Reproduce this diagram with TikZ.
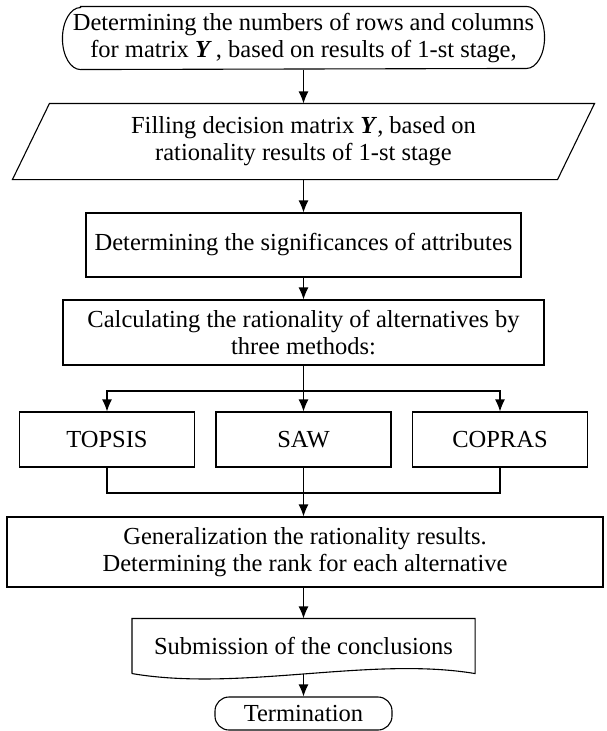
\documentclass[tikz,border=0pt]{standalone}
\usepackage{fontspec}
\setmainfont{Liberation Serif}
\usetikzlibrary{arrows.meta}
\newcommand{\matY}{\textbf{\textit{Y}}}
\begin{document}
\begin{tikzpicture}[x=1pt,y=-1pt,line width=1.1pt,
    >={Latex[length=12pt,width=10pt]},
    every node/.style={font=\fontsize{24.5}{27}\selectfont,align=center,inner sep=0pt},
    blk/.style={draw},
    meth/.style={draw,minimum width=175pt,minimum height=55pt}]
      \useasboundingbox (0,0) rectangle (607,731);
      \node (start) at (303.5,38) [minimum width=481pt,minimum height=62pt]
        {Determining the numbers of rows and columns\\for matrix \matY\,, based on results of 1-st stage,};
      \draw ([xshift=18pt]start.north west) -- ([xshift=-18pt]start.north east)
        arc[start angle=90,end angle=-90,x radius=18pt,y radius=31pt]
        -- ([xshift=18pt]start.south west)
        arc[start angle=270,end angle=90,x radius=18pt,y radius=31pt] -- cycle;
      \node (fill) at (303.5,141.5) [minimum width=544pt,minimum height=75pt]
        {Filling decision matrix \matY, based on\\rationality results of 1-st stage};
      \draw ([xshift=18.5pt]fill.north west) -- ([xshift=18.5pt]fill.north east)
        -- ([xshift=-18.5pt]fill.south east) -- ([xshift=-18.5pt]fill.south west) -- cycle;
      \node (sig) at (303.5,245) [blk,minimum width=435pt,minimum height=64pt]
        {Determining the significances of attributes};
      \node (calc) at (303.5,332.5) [blk,minimum width=481pt,minimum height=65pt]
        {Calculating the rationality of alternatives by\\three methods:};
      \coordinate (split) at (303.5,391) ;
      \node (topsis) at (107,439.5) [meth] {TOPSIS};
      \node (saw) at (303.5,439.5) [meth] {SAW};
      \node (copras) at (500,439.5) [meth] {COPRAS};
      \coordinate (join) at (303.5,493) ;
      \node (gen) at (305,552) [blk,minimum width=596pt,minimum height=70pt]
        {Generalization the rationality results.\\Determining the rank for each alternative};
      \node (doc) at (303.5,646) [minimum width=342pt,minimum height=54pt] {Submission of the conclusions};
      \draw (doc.south west) -- (doc.north west) -- (doc.north east) -- (doc.south east)
        .. controls (370,656) and (240,692) .. (doc.south west);
      \node (term) at (303.5,713.5) [draw,rounded corners=14pt,minimum width=177pt,minimum height=33pt] {Termination};
      \draw[->] (start) -- (fill);
      \draw[->] (fill) -- (sig);
      \draw[->] (sig) -- (calc);
      \draw (calc) -- (split);
      \draw[->] (split) -| (topsis);
      \draw[->] (split) -- (saw);
      \draw[->] (split) -| (copras);
      \draw (topsis) |- (join);
      \draw (copras) |- (join);
      \draw[->] (saw) -- (saw |- gen.north);
      \draw[->] (doc |- gen.south) -- (doc);
      \draw[->] (doc) -- (term);
    \end{tikzpicture}
\end{document}
